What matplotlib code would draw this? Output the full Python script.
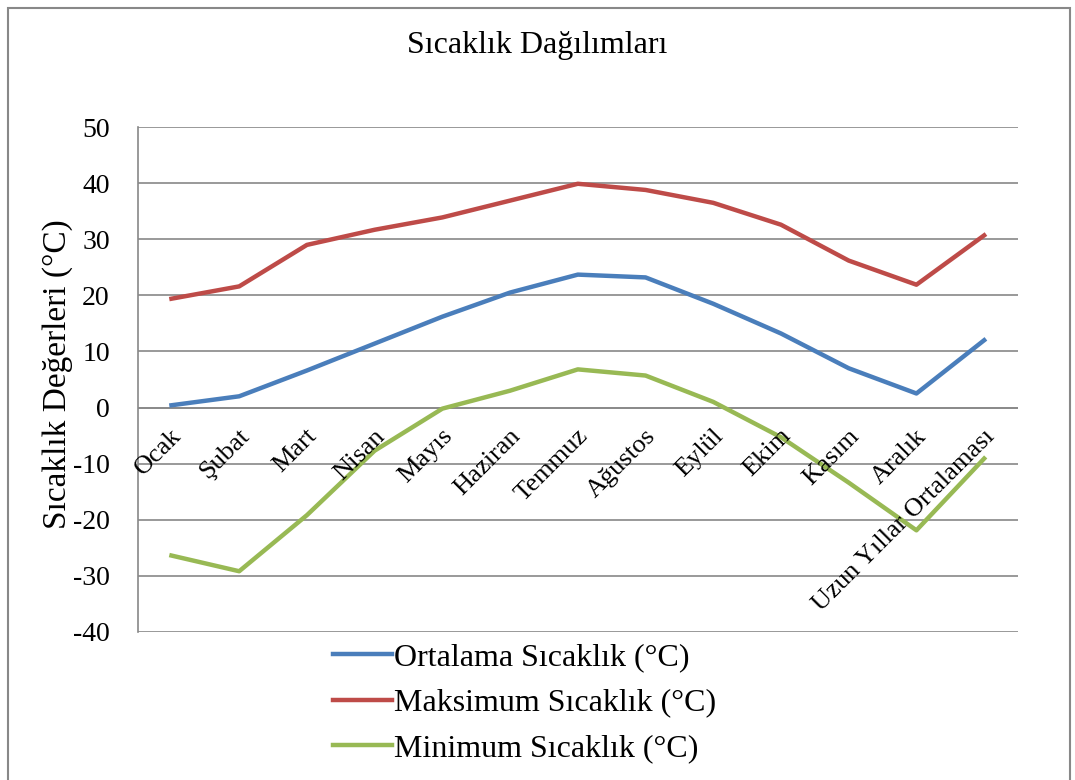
import matplotlib.pyplot as plt
from matplotlib.patches import Rectangle

aylar = ['Ocak', 'Şubat', 'Mart', 'Nisan', 'Mayıs', 'Haziran', 'Temmuz',
         'Ağustos', 'Eylül', 'Ekim', 'Kasım', 'Aralık', 'Uzun Yıllar Ortalaması']
ortalama = [0.4, 2.0, 6.6, 11.4, 16.2, 20.5, 23.7, 23.2, 18.5, 13.2, 7.0, 2.5, 12.0]
maksimum = [19.4, 21.6, 29.0, 31.7, 33.9, 36.9, 39.9, 38.8, 36.5, 32.6, 26.2, 21.9, 30.7]
minimum = [-26.4, -29.2, -19.2, -7.7, -0.2, 3.0, 6.8, 5.7, 1.0, -5.3, -13.4, -21.9, -9.1]
y_ticks = [50, 40, 30, 20, 10, 0, -10, -20, -30, -40]

plt.rcParams['font.family'] = ['Liberation Serif', 'DejaVu Serif']
plt.rcParams['axes.unicode_minus'] = False

fig = plt.figure(figsize=(10.75, 7.8), dpi=100)
fig.patches.append(Rectangle((0.007, -0.01), 0.988, 1.0, transform=fig.transFigure,
                             fill=False, edgecolor='#888888', linewidth=1.5))
ax = fig.add_axes([0.128, 0.190, 0.819, 0.647])

x = list(range(len(aylar)))
ax.plot(x, ortalama, color='#4A7EBB', linewidth=3.2, label='Ortalama Sıcaklık (°C)', zorder=3)
ax.plot(x, maksimum, color='#BE4B48', linewidth=3.2, label='Maksimum Sıcaklık (°C)', zorder=3)
ax.plot(x, minimum, color='#98B954', linewidth=3.2, label='Minimum Sıcaklık (°C)', zorder=3)

ax.set_xlim(-0.5, len(aylar) - 0.5)
ax.set_ylim(-40, 50)
ax.set_yticks(y_ticks)
ax.tick_params(axis='y', length=0, labelsize=20, pad=20)
ax.set_xticks([])
ax.grid(axis='y', color='#888888', linewidth=1.2)
ax.axhline(0, color='#888888', linewidth=1.2, zorder=2)
for s in ['top', 'right', 'bottom']:
    ax.spines[s].set_visible(False)
ax.spines['left'].set_color('#888888')
ax.spines['left'].set_linewidth(1.2)

for i, ay in enumerate(aylar):
    ax.text(i + 0.1, -4.5, ay, rotation=45, ha='right', va='center',
            rotation_mode='anchor', fontsize=19, zorder=4)

ax.set_ylabel('Sıcaklık Değerleri (°C)', fontsize=24)
ax.yaxis.set_label_coords(-0.073, 0.51)
fig.text(0.5, 0.942, 'Sıcaklık Dağılımları', ha='center', va='center', fontsize=23)

fig.legend(loc='upper left', bbox_to_anchor=(0.298, 0.192), frameon=False,
           fontsize=23, handlelength=1.85, handletextpad=0.05, labelspacing=0.5,
           borderaxespad=0)

fig.savefig('out.png', dpi=100)
